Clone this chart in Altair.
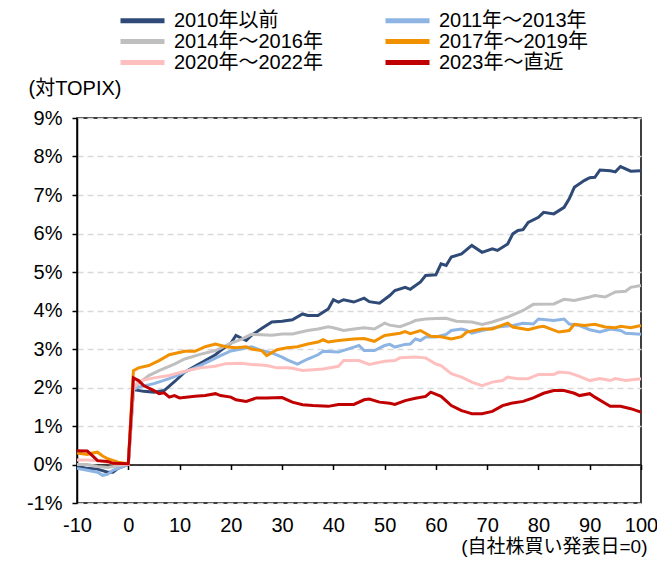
import altair as alt
import pandas as pd

series_names = ["2010年以前", "2011年～2013年", "2014年～2016年",
                "2017年～2019年", "2020年～2022年", "2023年～直近"]
series_colors = ["#2F4A76", "#8DB4E2", "#BFBFBF", "#F29100", "#FFBFBF", "#C00000"]

days_2010 = [-10, -8, -6, -4, -3, -2, -1, 0, 1, 3, 5, 7, 9, 11, 13, 15, 17, 18, 20, 21, 23, 24, 26,
             28, 30, 32, 34, 35, 37, 39, 40, 41, 42, 44, 46, 47, 49, 51, 52, 54, 55, 57, 58, 60, 61,
             62, 63, 65, 67, 69, 71, 72, 74, 75, 76, 77, 78, 80, 81, 83, 85, 86, 87, 89, 90, 91, 92,
             94, 95, 96, 98, 100]
vals_2010 = [-0.05, -0.1, -0.12, -0.2, -0.2, -0.1, -0.05, 0.0, 1.95, 1.9, 1.88, 1.92, 2.15, 2.4,
             2.55, 2.7, 2.85, 2.96, 3.15, 3.35, 3.22, 3.35, 3.53, 3.7, 3.72, 3.76, 3.91, 3.87, 3.87,
             4.04, 4.28, 4.22, 4.28, 4.22, 4.32, 4.23, 4.19, 4.39, 4.52, 4.6, 4.55, 4.74, 4.91, 4.93,
             5.21, 5.17, 5.39, 5.47, 5.69, 5.51, 5.6, 5.56, 5.73, 5.99, 6.08, 6.1, 6.29, 6.42, 6.55,
             6.51, 6.68, 6.9, 7.2, 7.38, 7.45, 7.46, 7.65, 7.63, 7.6, 7.74, 7.62, 7.63]

days_2011 = [-10, -8, -6, -5, -4, -3, -2, -1, 0, 1, 2, 5, 8, 11, 14, 18, 20, 22, 24, 26, 28, 30, 31,
             33, 35, 37, 38, 41, 44, 45, 46, 48, 50, 51, 52, 54, 55, 56, 57, 58, 60, 62, 63, 65, 66,
             67, 69, 72, 75, 77, 79, 80, 83, 85, 86, 88, 90, 92, 94, 96, 97, 100]
vals_2011 = [-0.1, -0.15, -0.2, -0.28, -0.25, -0.15, -0.1, -0.05, 0.0, 1.95, 2.01, 2.1, 2.23, 2.4,
             2.57, 2.83, 2.95, 3.0, 3.06, 2.96, 2.9, 2.79, 2.72, 2.61, 2.74, 2.85, 2.94, 2.92, 3.05,
             3.09, 2.96, 2.96, 3.09, 3.12, 3.05, 3.12, 3.13, 3.26, 3.22, 3.31, 3.31, 3.38, 3.48,
             3.52, 3.48, 3.41, 3.48, 3.57, 3.61, 3.67, 3.65, 3.78, 3.74, 3.78, 3.65, 3.61, 3.5,
             3.44, 3.52, 3.48, 3.41, 3.38]

days_2014 = [-10, -8, -6, -4, -2, 0, 1, 2, 4, 6, 9, 11, 14, 17, 18, 20, 22, 24, 26, 28, 30, 32, 35,
             37, 39, 40, 42, 44, 46, 48, 50, 51, 53, 55, 56, 58, 60, 62, 64, 66, 67, 69, 71, 74, 77,
             79, 83, 85, 87, 90, 91, 93, 95, 97, 98, 100]
vals_2014 = [0.0, 0.0, -0.05, -0.08, -0.03, 0.0, 1.95, 2.11, 2.31, 2.44, 2.61, 2.74, 2.86, 2.96,
             3.02, 3.15, 3.25, 3.38, 3.37, 3.36, 3.39, 3.39, 3.48, 3.52, 3.58, 3.55, 3.48, 3.52,
             3.55, 3.52, 3.67, 3.62, 3.58, 3.68, 3.74, 3.78, 3.79, 3.8, 3.72, 3.71, 3.7, 3.64, 3.7,
             3.83, 4.0, 4.16, 4.17, 4.29, 4.26, 4.35, 4.39, 4.35, 4.48, 4.5, 4.6, 4.65]

days_2017 = [-10, -8, -7, -6, -5, -4, -2, 0, 1, 2, 4, 6, 8, 11, 13, 15, 17, 19, 21, 23, 24, 26, 27,
             29, 31, 33, 35, 37, 38, 39, 41, 44, 46, 48, 50, 53, 54, 55, 57, 59, 61, 63, 65, 66, 69,
             71, 74, 75, 78, 80, 81, 84, 86, 87, 89, 91, 93, 95, 96, 98, 100]
vals_2017 = [0.3, 0.26, 0.3, 0.32, 0.22, 0.15, 0.06, 0.02, 2.44, 2.51, 2.57, 2.7, 2.85, 2.94, 2.94,
             3.06, 3.13, 3.06, 3.03, 3.06, 3.0, 2.96, 2.83, 2.98, 3.03, 3.06, 3.13, 3.18, 3.24,
             3.18, 3.22, 3.26, 3.27, 3.2, 3.35, 3.41, 3.45, 3.4, 3.48, 3.33, 3.32, 3.26, 3.32, 3.44,
             3.52, 3.52, 3.67, 3.57, 3.5, 3.57, 3.59, 3.44, 3.48, 3.64, 3.61, 3.64, 3.57, 3.55,
             3.59, 3.55, 3.61]

days_2020 = [-10, -8, -6, -4, -2, 0, 1, 2, 5, 8, 11, 14, 17, 19, 22, 24, 27, 29, 31, 32, 34, 36, 38,
             41, 42, 45, 47, 50, 52, 53, 56, 58, 60, 61, 63, 65, 67, 69, 71, 73, 74, 76, 78, 80, 83,
             84, 86, 88, 90, 92, 94, 95, 97, 100]
vals_2020 = [0.12, 0.12, 0.1, 0.05, 0.02, 0.0, 2.0, 2.16, 2.25, 2.31, 2.42, 2.51, 2.55, 2.62, 2.63,
             2.6, 2.57, 2.51, 2.51, 2.5, 2.44, 2.46, 2.48, 2.55, 2.7, 2.7, 2.6, 2.68, 2.7, 2.77,
             2.79, 2.77, 2.61, 2.57, 2.36, 2.27, 2.14, 2.05, 2.14, 2.18, 2.27, 2.23, 2.23, 2.34,
             2.34, 2.4, 2.38, 2.29, 2.18, 2.23, 2.18, 2.23, 2.18, 2.23]

days_2023 = [-10, -8, -7, -6, -4, -3, 0, 1, 2, 3, 5, 6, 7, 8, 9, 10, 13, 15, 17, 18, 20, 21, 23, 25,
             27, 30, 32, 34, 36, 39, 41, 44, 46, 47, 49, 51, 52, 54, 56, 58, 59, 61, 62, 63, 65, 66,
             67, 69, 71, 73, 75, 77, 79, 81, 83, 85, 87, 88, 90, 91, 93, 94, 96, 98, 100]
vals_2023 = [0.36, 0.35, 0.23, 0.1, 0.08, 0.03, 0.02, 2.25, 2.18, 2.05, 1.92, 1.84, 1.86, 1.75,
             1.79, 1.73, 1.77, 1.79, 1.84, 1.79, 1.75, 1.68, 1.64, 1.73, 1.73, 1.74, 1.62, 1.55,
             1.53, 1.51, 1.56, 1.56, 1.68, 1.7, 1.62, 1.59, 1.56, 1.66, 1.72, 1.77, 1.88, 1.77,
             1.65, 1.53, 1.4, 1.36, 1.32, 1.32, 1.38, 1.53, 1.6, 1.64, 1.73, 1.85, 1.92, 1.92,
             1.85, 1.79, 1.84, 1.75, 1.59, 1.51, 1.51, 1.45, 1.36]

x_ticks = list(range(-10, 101, 10))
y_ticks = list(range(-1, 10))

all_days = [days_2010, days_2011, days_2014, days_2017, days_2020, days_2023]
all_vals = [vals_2010, vals_2011, vals_2014, vals_2017, vals_2020, vals_2023]

rows = []
for name, ds, vs in zip(series_names, all_days, all_vals):
    assert len(ds) == len(vs), name
    for d, v in zip(ds, vs):
        rows.append({"series": name, "day": d, "value": v})
df = pd.DataFrame(rows)

FONT = "Liberation Sans, Arial, Noto Sans CJK JP, sans-serif"

chart = alt.Chart(df).mark_line(strokeWidth=3).encode(
    x=alt.X("day:Q",
            scale=alt.Scale(domain=[-10, 100], nice=False, zero=False),
            axis=alt.Axis(values=x_ticks, title="(自社株買い発表日=0)", offset=-38.5, grid=False,
                          labelExpr="datum.value < 0 ? '-' + abs(datum.value) : '' + datum.value",
                          domainColor="black", domainWidth=1.5, tickColor="black", tickWidth=1.5,
                          tickSize=5, labelFontSize=20, labelPadding=46, labelFont=FONT,
                          labelColor="black", labelFlush=False,
                          titleFont=FONT, titleFontSize=19, titleFontWeight="normal",
                          titleColor="black", titleAlign="right", titleX=570, titleY=82,
                          titleBaseline="middle")),
    y=alt.Y("value:Q",
            scale=alt.Scale(domain=[-1, 9], nice=False),
            axis=alt.Axis(values=y_ticks, labelExpr="datum.value + '%'", title="(対TOPIX)",
                          titleAngle=0, titleX=-49, titleY=-30, titleAlign="left",
                          titleBaseline="middle", titleFont=FONT, titleFontSize=20,
                          titleFontWeight="normal", titleColor="black",
                          grid=True, gridColor="#D9D9D9", gridDash=[6, 4], gridWidth=1.5,
                          domainColor="black", domainWidth=1.5, tickColor="black", tickWidth=1.5,
                          tickSize=5, labelFontSize=20, labelPadding=10, labelFont=FONT,
                          labelColor="black")),
    color=alt.Color("series:N",
                    scale=alt.Scale(domain=series_names, range=series_colors),
                    legend=alt.Legend(title=None, orient="none", legendX=41, legendY=-108,
                                      columns=2, direction="horizontal",
                                      symbolType="M-1,0H4.5", symbolSize=256,
                                      symbolStrokeWidth=5, labelFontSize=20,
                                      labelFont=FONT, labelColor="black", labelOffset=35,
                                      columnPadding=52, rowPadding=0, labelLimit=400,
                                      padding=0)),
).properties(
    width=564, height=385,
    autosize=alt.AutoSizeParams(type="none"),
    padding={"left": 69, "top": 110, "right": 16, "bottom": 54},
).configure_view(
    stroke="black", strokeWidth=1.5
)

chart.save("out.html", embed_options={"renderer": "svg", "actions": False})
